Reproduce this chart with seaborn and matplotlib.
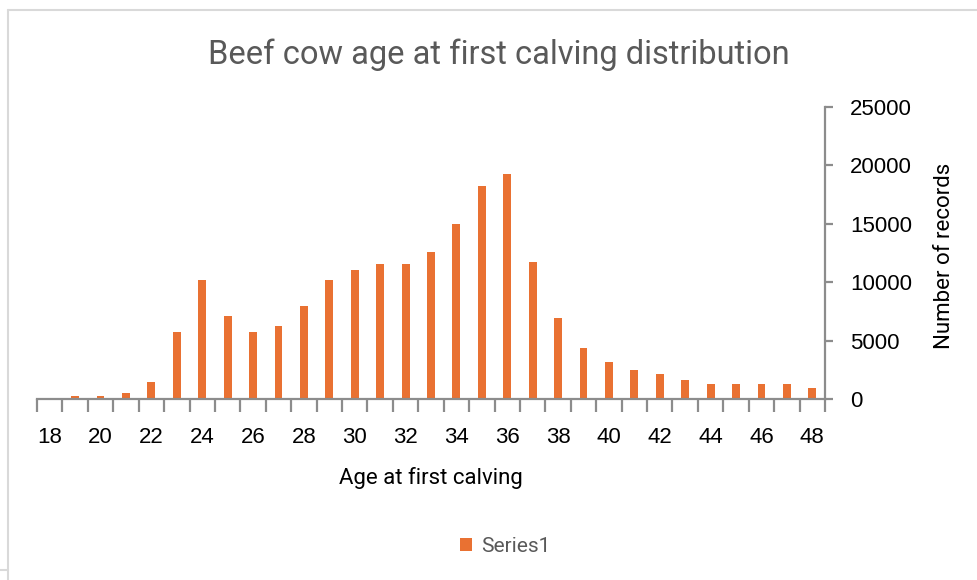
import matplotlib
matplotlib.use("Agg")
import matplotlib.pyplot as plt
from matplotlib.lines import Line2D
from matplotlib.patches import Patch
from matplotlib.ticker import FixedLocator, NullFormatter
import numpy as np
import pandas as pd
import seaborn as sns

# Age at first calving (months) and number of records per age
ages = list(range(18, 49))
records = [30, 280, 280, 480, 1450, 5750, 10200, 7100, 5750, 6250, 7950,
           10200, 11050, 11550, 11550, 12600, 15000, 18250, 19250, 11700,
           6950, 4350, 3150, 2500, 2150, 1600, 1300, 1300, 1300, 1300, 950]
y_ticks = [0, 5000, 10000, 15000, 20000, 25000]

title = "Beef cow age at first calving distribution"
x_title = "Age at first calving"
y_title = "Number of records"
series_name = "Series1"

bar_color = "#E97132"
axis_color = "#8C8C8C"
title_color = "#595959"

sns.set_theme(style="white")
plt.rcParams["font.family"] = ["Liberation Sans", "DejaVu Sans"]

df = pd.DataFrame({"age": [str(a) for a in ages], "records": records})

fig = plt.figure(figsize=(9.77, 5.8), dpi=100)
ax = fig.add_axes([37 / 977, 181 / 580, (825 - 37) / 977, (399 - 107) / 580])

sns.barplot(data=df, x="age", y="records", color=bar_color, width=0.31,
            saturation=1, ax=ax, order=df["age"].tolist(), linewidth=0)

n = len(ages)
ax.set_xlim(-0.5, n - 0.5)
ax.set_ylim(y_ticks[0], y_ticks[-1])

# category labels every two ages, tick marks between categories
ax.set_xticks(range(0, n, 2))
ax.set_xticklabels([str(a) for a in ages[::2]], fontsize=16, color="black")
ax.xaxis.set_minor_locator(FixedLocator(np.arange(-0.5, n, 1.0)))
ax.xaxis.set_minor_formatter(NullFormatter())
ax.tick_params(axis="x", which="major", length=0, pad=20)
ax.tick_params(axis="x", which="minor", length=9, width=1.6, color=axis_color,
               direction="out", bottom=True)

# value axis on the right
ax.yaxis.tick_right()
ax.set_yticks(y_ticks)
ax.set_yticklabels([str(v) for v in y_ticks], fontsize=16, color="black")
ax.tick_params(axis="y", which="major", length=6, width=1.6, color=axis_color,
               direction="out", right=True, left=False, pad=12)

for side in ("left", "top"):
    ax.spines[side].set_visible(False)
for side in ("bottom", "right"):
    ax.spines[side].set_color(axis_color)
    ax.spines[side].set_linewidth(1.6)

ax.set_xlabel("")
ax.set_ylabel("")
ax.grid(False)

fig.text(499 / 977, 1 - 64 / 580, title, ha="center", va="baseline",
         fontsize=23.5, color=title_color, family=["Roboto", "DejaVu Sans"])
fig.text(431 / 977, 1 - 484 / 580, x_title, ha="center", va="baseline",
         fontsize=16, color="black", family=["Roboto", "DejaVu Sans"])
fig.text(945 / 977, 1 - 256 / 580, y_title, ha="center", va="center",
         rotation=90, fontsize=16, color="black",
         family=["Roboto", "DejaVu Sans"])

leg = fig.legend(handles=[Patch(facecolor=bar_color, edgecolor="none",
                                label=series_name)],
                 loc="center", bbox_to_anchor=(505 / 977, 1 - 546 / 580),
                 frameon=False, handlelength=0.6, handleheight=0.6,
                 handletextpad=0.4,
                 prop={"family": ["Roboto", "DejaVu Sans"], "size": 15})
for t in leg.get_texts():
    t.set_color(title_color)

# chart area border
border = "#D9D9D9"
fig.add_artist(Line2D([8 / 977, 1], [1 - 9.5 / 580] * 2, color=border,
                      lw=1.5, transform=fig.transFigure))
fig.add_artist(Line2D([8 / 977] * 2, [0, 1 - 9.5 / 580], color=border,
                      lw=1.5, transform=fig.transFigure))
fig.add_artist(Line2D([0, 8 / 977], [1 - 570 / 580] * 2, color=border,
                      lw=1.5, transform=fig.transFigure))

fig.savefig("out.png", dpi=100, facecolor="white")
